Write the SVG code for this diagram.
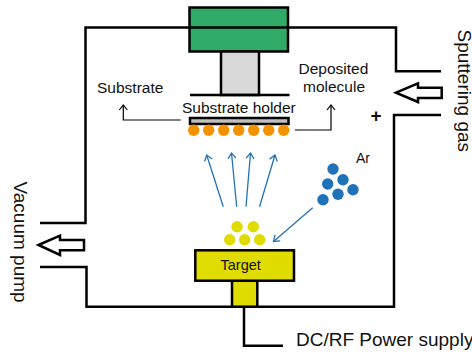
<svg xmlns="http://www.w3.org/2000/svg" width="472" height="356" viewBox="0 0 472 356">
<defs>
<marker id="blue" markerUnits="userSpaceOnUse" markerWidth="12" markerHeight="12" refX="7" refY="6" orient="auto"><path d="M1.5 2 L7 6 L1.5 10" fill="none" stroke="#2472b8" stroke-width="1.3"/></marker>
<marker id="blk" markerUnits="userSpaceOnUse" markerWidth="12" markerHeight="12" refX="7" refY="6" orient="auto"><path d="M2 2 L7 6 L2 10" fill="none" stroke="#000" stroke-width="1.2"/></marker>
</defs>
<style>
text{font-family:"Liberation Sans",Arial,sans-serif;font-size:15.5px;fill:#111}
.l{font-size:19px}
.w{fill:none;stroke:#000;stroke-width:2.5}
.s{stroke:#000;stroke-width:2.5}
.a{fill:none;stroke:#2472b8;stroke-width:1.3;marker-end:url(#blue)}
.t{fill:none;stroke:#000;stroke-width:1.2;marker-end:url(#blk)}
.o{fill:#f39200}.b{fill:#1f71b8}.y{fill:#e0dc00}
</style>
<g id="connectors">
<path class="w" d="M190 27.5H85.5V223H40M40 267H86.5V306.7H394V115H441M441 71.3H396V27.5H288"/>
<path class="w" d="M244 306.7V345.7H283"/>
<path class="a" d="M223.3 206.7L206.7 155"/>
<path class="a" d="M236.7 206.7L231.5 153"/>
<path class="a" d="M246 206.7L250.5 153"/>
<path class="a" d="M259.5 206.7L275 155"/>
<path class="a" d="M312.7 207.7L273.5 241.5"/>
<path class="t" d="M180.7 120H123.3V105"/>
<path class="t" d="M295 130H331V105"/>
</g>
<g id="magnet"><rect class="s" x="189.5" y="7.5" width="98.5" height="44" fill="#2fab67"/><path class="s" d="M189.5 27.5H288"/></g>
<g id="shaft"><rect class="s" x="221" y="51.5" width="38" height="43.5" fill="#d9d9d9"/><path class="s" d="M190 95H289.5"/></g>
<g id="holder"><rect x="190" y="118" width="98.5" height="6" fill="#bfbfbf" stroke="#000" stroke-width="2.5"/><text x="182" y="113">Substrate holder</text></g>
<g id="substrate-atoms">
<circle class="o" cx="193.7" cy="130.3" r="5.7"/><circle class="o" cx="208.7" cy="130.3" r="5.7"/><circle class="o" cx="223.7" cy="130.3" r="5.7"/><circle class="o" cx="238.7" cy="130.3" r="5.7"/><circle class="o" cx="253.7" cy="130.3" r="5.7"/><circle class="o" cx="268.7" cy="130.3" r="5.7"/><circle class="o" cx="283.7" cy="130.3" r="5.7"/>
</g>
<g id="ar-atoms">
<circle class="b" cx="333" cy="169" r="5.7"/><circle class="b" cx="327.7" cy="184" r="5.7"/><circle class="b" cx="343" cy="179.7" r="5.7"/><circle class="b" cx="353" cy="189.7" r="5.7"/><circle class="b" cx="338" cy="194.3" r="5.7"/><circle class="b" cx="323" cy="199.7" r="5.7"/>
</g>
<g id="target-atoms">
<circle class="y" cx="237" cy="226.7" r="5.7"/><circle class="y" cx="253.3" cy="226.7" r="5.7"/><circle class="y" cx="229.7" cy="239.7" r="5.7"/><circle class="y" cx="244.7" cy="239.7" r="5.7"/><circle class="y" cx="259.7" cy="239.7" r="5.7"/>
</g>
<g id="target"><rect class="s" x="232" y="280.7" width="25.3" height="26" fill="#e0dc00"/><rect class="s" x="195.3" y="250.3" width="98.7" height="30.4" fill="#e0dc00"/><text x="220.5" y="270" style="font-size:14.5px">Target</text></g>
<g id="vacuum-arrow"><path class="w" d="M38.5 245L60 235.7V240H84V250.3H60V255Z"/></g>
<g id="gas-arrow"><path class="w" d="M396 92.7L418 83.3V87.7H441.7V98H418V102Z"/></g>
<g id="labels">
<text x="97" y="93">Substrate</text>
<text x="298.5" y="74">Deposited</text>
<text x="303" y="92">molecule</text>
<text x="356" y="163" style="font-size:14px">Ar</text>
<text x="370.5" y="122" style="font-weight:bold;font-size:19px">+</text>
<text class="l" x="296" y="346">DC/RF Power supply</text>
<text class="l" transform="translate(457.5 29.5) rotate(90)">Sputtering gas</text>
<text class="l" transform="translate(14.3 181.5) rotate(90)">Vacuum pump</text>
</g>
</svg>
